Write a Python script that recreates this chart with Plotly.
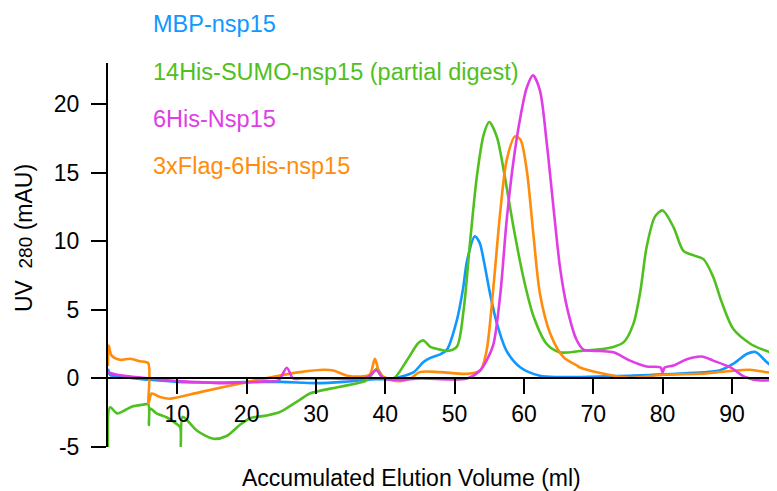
import plotly.graph_objects as go

# ---- data ----
names = ["MBP-nsp15", "14His-SUMO-nsp15 (partial digest)", "6His-Nsp15", "3xFlag-6His-nsp15"]
colors = ["#0f98ff", "#50c020", "#e03de6", "#ff8c0a"]

mbp_x = [0, 0.3, 1, 3, 6, 10, 15, 20, 25, 30, 34, 37.8, 40.7, 42.1, 44.1, 45.5, 46.5, 47.9, 48.9, 50.3, 51.2, 51.8,
         52.9, 53.6, 54.2, 55.1, 56.1, 57.5, 59.5, 62.3, 65, 68.1, 75.3, 82.5, 88.3, 90.2, 92.2, 93.4, 95.0, 96.5]
mbp_y = [0.7, 0.25, 0.15, 0.05, -0.1, -0.25, -0.3, -0.27, -0.25, -0.34, -0.25, -0.07, -0.05, 0.1, 0.46, 1.2, 1.5,
         1.75, 2.1, 4.2, 6.5, 8.6, 10.36, 9.9, 8.6, 6.2, 4.0, 2.0, 0.8, 0.2, 0.1, 0.1, 0.2, 0.35, 0.6, 1.07, 1.8,
         1.92, 1.2, 0.58]

sumo_x = [0, 0.3, 1.3, 2.5, 3.5, 5.0, 5.8, 5.9, 6.1, 7.0, 8.5, 9.7, 10.4, 10.5, 10.75, 11.5, 12.8, 15.2, 17.1, 19.0,
          20.5, 22.9, 24.8, 26.3, 27.7, 29.1, 33.5, 37.3, 38.8, 39.7, 41.2, 43.1, 44.8, 45.5, 46.5, 47.9, 48.9, 50.3,
          51.3, 52.2, 53.2, 54.2, 55.0, 56.1, 57.0, 58.5, 59.9, 61.4, 63.3, 65.2, 68.1, 70.5, 72.9, 74.4, 75.8, 76.8,
          77.7, 78.9, 80.0, 81.6, 83.0, 84.5, 85.9, 87.3, 88.5, 90.2, 92.6, 94.1, 96.5]
sumo_y = [-5, -2.1, -2.55, -2.3, -2.05, -1.92, -1.88, -3.4, -2.2, -2.55, -2.85, -3.25, -3.55, -5.0, -2.8, -3.1, -3.8,
          -4.4, -4.2, -3.4, -2.9, -2.7, -2.45, -2.0, -1.55, -1.1, -0.6, -0.15, 0.7, 0.1, 0.0, 1.3, 2.6, 2.77, 2.3,
          2.1, 2.0, 2.3, 5.0, 9.8, 14.7, 17.8, 18.7, 17.6, 15.4, 11.0, 7.4, 4.5, 2.5, 1.9, 2.0, 2.1, 2.3, 2.65, 4.0,
          6.4, 9.6, 11.8, 12.25, 11.0, 9.3, 8.97, 8.7, 7.4, 5.6, 3.6, 2.55, 2.17, 1.75]

his_x = [0, 1, 3, 5, 8, 10, 13.3, 16, 20, 23, 24.6, 25.8, 26.7, 28, 32, 37.3, 38.7, 39.7, 42.1, 45, 51.8, 53.7,
         54.6, 55.6, 56.6, 57.5, 58.5, 59.5, 60.4, 61.3, 62.3, 63.3, 64.3, 65.2, 66.2, 67.6, 68.6, 71.0, 72.9, 75.3,
         77.7, 79.7, 80.0, 80.3, 81.6, 83.5, 85.6, 87.3, 89.8, 91.9, 94.1, 96.5]
his_y = [0.45, 0.3, 0.15, 0.05, -0.1, -0.2, -0.27, -0.35, -0.3, -0.2, -0.15, 0.78, 0.0, 0.0, 0.0, 0.05, 0.6, 0.0,
         -0.1, 0.0, 0.0, 0.6, 1.3, 2.5, 6.2, 11.5, 15.9, 19.1, 21.2, 22.1, 21.0, 17.1, 12.25, 8.1, 5.2, 2.8, 2.1,
         2.0, 1.9, 1.3, 0.87, 0.8, 0.45, 0.8, 0.95, 1.4, 1.6, 1.3, 0.8, 0.1, -0.15, -0.07]

flag_x = [0, 0.1, 0.5, 1.7, 3.2, 4.6, 5.8, 5.85, 6.3, 7.5, 8.9, 13.3, 20.0, 24.8, 27.7, 31.1, 32.5, 34.4, 36.8, 37.8,
          38.5, 39.2, 40.2, 42.1, 43.6, 45.0, 47.9, 51.8, 53.7, 54.6, 55.6, 56.6, 57.5, 58.7, 59.5, 60.4, 61.4, 62.3,
          63.8, 65.7, 67.6, 68.1, 71.0, 75.3, 80.1, 85.4, 89.0, 92.6, 95.0, 96.5]
flag_y = [0.9, 2.4, 1.68, 1.36, 1.43, 1.26, 1.12, -1.8, -1.1, -1.36, -1.48, -1.0, -0.27, 0.22, 0.46, 0.63, 0.58,
          0.22, 0.15, 0.3, 1.43, 0.34, 0.0, -0.2, 0.0, 0.46, 0.46, 0.34, 0.58, 2.0, 6.7, 12.25, 15.9, 17.65, 17.4,
          15.2, 10.3, 6.2, 3.26, 1.55, 0.95, 0.8, 0.4, 0.05, 0.27, 0.34, 0.5, 0.63, 0.45, 0.4]

y_ticks = [-5, 0, 5, 10, 15, 20]
y_ticktext = ["-5", "0", "5", "10", "15", "20"]
x_ticks = [10, 20, 30, 40, 50, 60, 70, 80, 90]
x_range = [0, 96.5]
y_range = [-5, 23]

FONT = "Arial, 'Liberation Sans', sans-serif"

fig = go.Figure()
series = [(mbp_x, mbp_y), (sumo_x, sumo_y), (flag_x, flag_y), (his_x, his_y)]
order = [0, 1, 3, 2]
for (xs, ys), idx in zip(series, order):
    fig.add_trace(go.Scatter(x=xs, y=ys, mode="lines", name=names[idx],
                             line=dict(color=colors[idx], width=2.6, shape="spline", smoothing=0.8),
                             showlegend=False))

# legend as coloured text
leg_y = [1.1016, 0.9766, 0.8542, 0.7318]
for name, col, yy in zip(names, colors, leg_y):
    fig.add_annotation(x=0.0643, y=yy, xref="paper", yref="paper", text=name, showarrow=False,
                       xanchor="left", yanchor="middle", font=dict(family=FONT, size=23.5, color=col))

fig.add_annotation(x=-0.1256, y=0.544, xref="paper", yref="paper", textangle=-90,
                   text="UV <span style='font-size:19px'> 280</span> (mAU)", showarrow=False,
                   xanchor="center", yanchor="middle", font=dict(family=FONT, size=23, color="black"))
fig.add_annotation(x=0.4537, y=-0.0807, xref="paper", yref="paper",
                   text="Accumulated Elution Volume (ml)", showarrow=False,
                   xanchor="center", yanchor="middle", font=dict(family=FONT, size=23, color="black"))

# page body has an 8px default margin; the figure is sized/offset to compensate
fig.update_layout(
    width=769, height=483,
    margin=dict(l=100, r=0, t=55, b=44),
    plot_bgcolor="white", paper_bgcolor="white",
    font=dict(family=FONT, size=23, color="black"),
    xaxis=dict(range=x_range, anchor="free", position=(0 - y_range[0]) / (y_range[1] - y_range[0]),
               showline=True, linecolor="black", linewidth=2, ticks="outside", ticklen=15, tickwidth=2,
               tickcolor="black", tickvals=x_ticks, showgrid=False, zeroline=False, automargin=False,
               tickfont=dict(family=FONT, size=23, color="black")),
    yaxis=dict(range=y_range, showline=True, linecolor="black", linewidth=2, ticks="outside", ticklen=15,
               tickwidth=2, tickcolor="black", tickvals=y_ticks, ticktext=y_ticktext, showgrid=False,
               zeroline=False, automargin=False, ticklabelstandoff=7,
               tickfont=dict(family=FONT, size=23, color="black")),
)

fig.write_html("out.html")
